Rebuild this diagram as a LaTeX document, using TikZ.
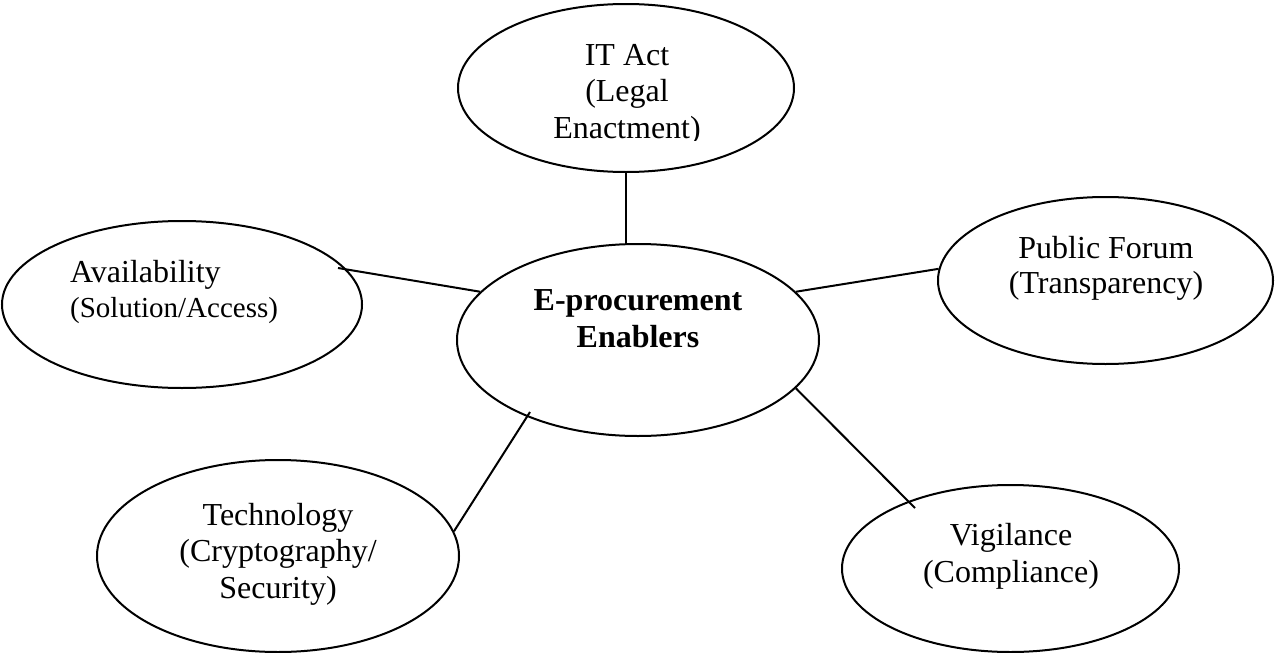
\documentclass[tikz,border=0pt]{standalone}
\usepackage{fontspec}
\setmainfont{Liberation Serif}
\usetikzlibrary{shapes.geometric}
\begin{document}
\begin{tikzpicture}[x=1pt,y=-1pt,
  bubble/.style={draw, ellipse, line width=2pt, inner sep=0pt},
  caption/.style={inner sep=0pt, anchor=base, align=center,
    font=\fontsize{32}{36.5}\selectfont},
  link/.style={line width=2pt}]
\useasboundingbox (0,0) rectangle (1275,653);

% ellipses
\node[bubble, minimum width=336, minimum height=168] (itact) at (626,88) {};
\node[bubble, minimum width=362, minimum height=192] (core)  at (638,340) {};
\node[bubble, minimum width=360, minimum height=167] (avail) at (182,304.5) {};
\node[bubble, minimum width=335, minimum height=167] (forum) at (1105.5,280.5) {};
\node[bubble, minimum width=362, minimum height=192] (tech)  at (278,556) {};
\node[bubble, minimum width=337, minimum height=167] (vig)   at (1010.5,568.5) {};

% texts (base anchor sits on the last line)
\begin{scope}
  \clip (440,0) rectangle (820,140.5);
  \node[caption] (itact-t) at (627,138) {IT Act\\(Legal\\Enactment)};
\end{scope}
\node[caption, font=\fontsize{32}{36.5}\selectfont\bfseries] (core-t) at (638,347)
  {E-procurement\\Enablers};
\node[caption, anchor=base west, align=left] (avail-t) at (70,317)
  {Availability\\[-1.5pt]{\fontsize{29}{35}\selectfont(Solution/Access)}};
\node[caption] (forum-t) at (1106,293) {Public Forum\\[-1.5pt](Transparency)};
\node[caption] (tech-t) at (278,598) {Technology\\(Cryptography/\\Security)};
\node[caption] (vig-t) at (1011,582) {Vigilance\\(Compliance)};

% connectors
\coordinate (avail-end) at (338,268);
\coordinate (tech-end)  at (530,412);
\coordinate (vig-end)   at (915,508);
\draw[link] (itact.south) -- (itact.south |- core.north);
\draw[link] (avail-end) -- (core.163);
\draw[link] (core.17) -- (forum.176);
\draw[link] (tech-end) -- (tech.8);
\draw[link] (core.-17) -- (vig-end);
\end{tikzpicture}
\end{document}
